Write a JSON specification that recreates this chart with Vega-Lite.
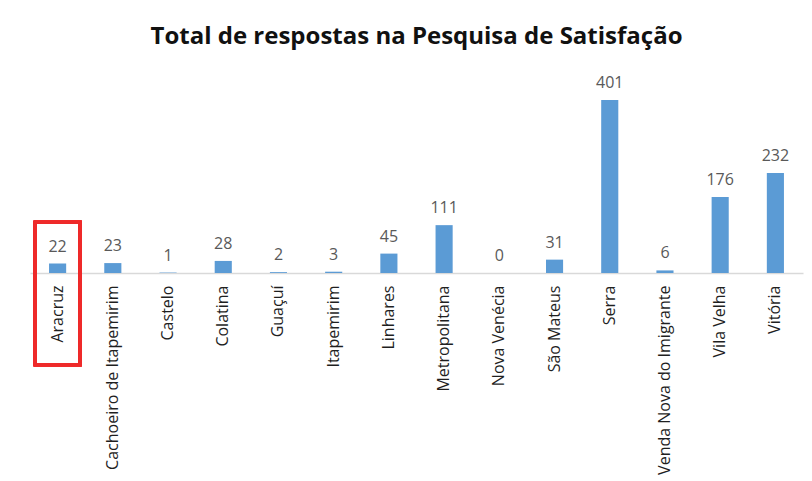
{
  "$schema": "https://vega.github.io/schema/vega-lite/v6.json",
  "width": 773,
  "height": 194,
  "autosize": {"type": "none"},
  "padding": {"left": 30, "top": 79, "right": 9, "bottom": 208},
  "background": "#FFFFFF",
  "title": {
    "text": "Total de respostas na Pesquisa de Satisfação",
    "font": "Open Sans",
    "fontSize": 24,
    "fontWeight": "bold",
    "color": "#111111",
    "anchor": "middle",
    "offset": 26
  },
  "config": {"view": {"stroke": null}},
  "data": {
    "values": [
      {"municipio": "Aracruz", "respostas": 22},
      {"municipio": "Cachoeiro de Itapemirim", "respostas": 23},
      {"municipio": "Castelo", "respostas": 1},
      {"municipio": "Colatina", "respostas": 28},
      {"municipio": "Guaçuí", "respostas": 2},
      {"municipio": "Itapemirim", "respostas": 3},
      {"municipio": "Linhares", "respostas": 45},
      {"municipio": "Metropolitana", "respostas": 111},
      {"municipio": "Nova Venécia", "respostas": 0},
      {"municipio": "São Mateus", "respostas": 31},
      {"municipio": "Serra", "respostas": 401},
      {"municipio": "Venda Nova do Imigrante", "respostas": 6},
      {"municipio": "Vila Velha", "respostas": 176},
      {"municipio": "Vitória", "respostas": 232}
    ]
  },
  "encoding": {
    "x": {
      "field": "municipio",
      "type": "nominal",
      "sort": null,
      "scale": {"paddingInner": 0.69, "paddingOuter": 0.345},
      "axis": {
        "title": null,
        "labelAngle": -90,
        "labelAlign": "right",
        "labelBaseline": "middle",
        "labelPadding": 12,
        "labelFont": "Open Sans",
        "labelFontSize": 16,
        "labelColor": "#1F1F1F",
        "ticks": false,
        "domainColor": "#D9D9D9",
        "domainWidth": 1.5,
        "labelLimit": 300
      }
    },
    "y": {
      "field": "respostas",
      "type": "quantitative",
      "scale": {"domain": [0, 450], "nice": false},
      "axis": null
    }
  },
  "layer": [
    {"mark": {"type": "bar", "color": "#5B9BD5"}},
    {
      "mark": {
        "type": "text",
        "baseline": "alphabetic",
        "dy": -12,
        "font": "Open Sans",
        "fontSize": 16,
        "color": "#595959"
      },
      "encoding": {"text": {"field": "respostas", "type": "quantitative"}}
    },
    {
      "mark": {
        "type": "bar",
        "fill": null,
        "fillOpacity": 0,
        "stroke": "#EE2A2A",
        "strokeWidth": 3,
        "width": 45
      },
      "encoding": {
        "x": {"datum": "Aracruz"},
        "y": {"datum": 118},
        "y2": {"datum": -213}
      }
    }
  ]
}
